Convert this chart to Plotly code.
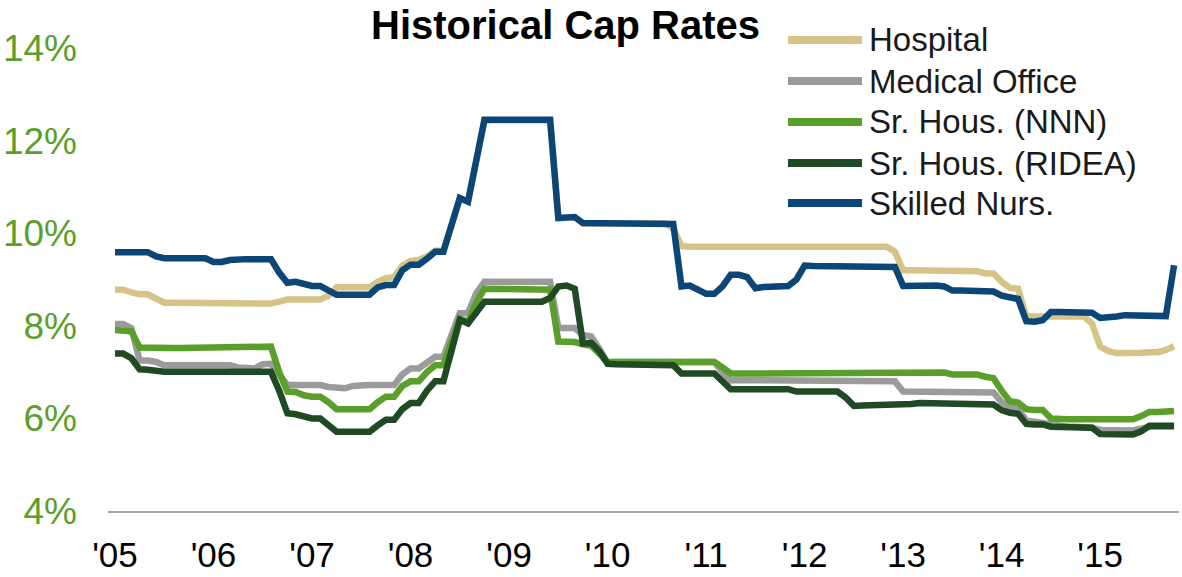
import plotly.graph_objects as go

# months since Jan 2005 (monthly observations)
months = list(range(130))
year_ticks = [0, 12, 24, 36, 48, 60, 72, 84, 96, 108, 120]
year_labels = ["'05", "'06", "'07", "'08", "'09", "'10", "'11", "'12", "'13", "'14", "'15"]
pct_ticks = [4, 6, 8, 10, 12, 14]
pct_labels = ["4%", "6%", "8%", "10%", "12%", "14%"]

hospital = [
    8.78, 8.78, 8.72, 8.68, 8.68, 8.60, 8.50, 8.50, 8.50, 8.50,
    8.50, 8.50, 8.50, 8.50, 8.48, 8.48, 8.48, 8.48, 8.48, 8.48,
    8.52, 8.57, 8.57, 8.57, 8.57, 8.57, 8.65, 8.83, 8.83, 8.83,
    8.83, 8.83, 8.95, 9.03, 9.05, 9.30, 9.40, 9.42, 9.50, 9.62,
    9.62, 10.20, 10.75, 10.68, 11.60, 12.44, 12.44, 12.44, 12.44, 12.44,
    12.44, 12.44, 12.44, 12.44, 10.32, 10.34, 10.34, 10.21, 10.21, 10.21,
    10.21, 10.21, 10.21, 10.21, 10.21, 10.21, 10.21, 10.21, 10.10, 9.72,
    9.71, 9.71, 9.71, 9.71, 9.71, 9.71, 9.71, 9.71, 9.71, 9.71,
    9.71, 9.71, 9.71, 9.71, 9.71, 9.71, 9.71, 9.71, 9.71, 9.71,
    9.71, 9.71, 9.71, 9.71, 9.71, 9.60, 9.20, 9.20, 9.20, 9.20,
    9.20, 9.20, 9.20, 9.20, 9.20, 9.18, 9.13, 9.13, 8.95, 8.82,
    8.80, 8.20, 8.20, 8.20, 8.20, 8.20, 8.20, 8.20, 8.20, 8.05,
    7.55, 7.45, 7.41, 7.41, 7.40, 7.42, 7.43, 7.43, 7.48, 7.56,
]

medical_office = [
    8.04, 8.04, 7.95, 7.25, 7.25, 7.22, 7.15, 7.15, 7.15, 7.15,
    7.15, 7.15, 7.15, 7.15, 7.15, 7.10, 7.08, 7.08, 7.17, 7.18,
    6.95, 6.72, 6.72, 6.72, 6.72, 6.72, 6.68, 6.65, 6.65, 6.70,
    6.72, 6.72, 6.72, 6.72, 6.72, 6.95, 7.08, 7.08, 7.20, 7.33,
    7.33, 7.80, 8.27, 8.27, 8.70, 8.95, 8.95, 8.95, 8.95, 8.95,
    8.95, 8.95, 8.95, 8.95, 7.95, 7.95, 7.95, 7.80, 7.77, 7.50,
    7.20, 7.22, 7.22, 7.22, 7.22, 7.22, 7.22, 7.22, 7.22, 7.22,
    7.22, 7.22, 7.22, 7.22, 7.00, 6.82, 6.83, 6.83, 6.83, 6.83,
    6.83, 6.83, 6.83, 6.83, 6.83, 6.83, 6.83, 6.83, 6.83, 6.83,
    6.83, 6.83, 6.83, 6.83, 6.83, 6.80, 6.58, 6.58, 6.58, 6.58,
    6.58, 6.58, 6.58, 6.58, 6.58, 6.58, 6.58, 6.56, 6.35, 6.25,
    6.20, 5.95, 5.93, 5.90, 5.85, 5.82, 5.82, 5.82, 5.82, 5.80,
    5.75, 5.74, 5.74, 5.74, 5.74, 5.78, 5.82, 5.82, 5.82, 5.82,
]

sr_nnn = [
    7.91, 7.91, 7.88, 7.53, 7.52, 7.52, 7.52, 7.52, 7.52, 7.52,
    7.52, 7.52, 7.52, 7.52, 7.52, 7.52, 7.52, 7.52, 7.52, 7.55,
    7.00, 6.58, 6.57, 6.50, 6.47, 6.47, 6.35, 6.20, 6.20, 6.20,
    6.20, 6.20, 6.35, 6.47, 6.47, 6.70, 6.80, 6.80, 7.00, 7.15,
    7.15, 7.70, 8.15, 8.08, 8.50, 8.80, 8.80, 8.80, 8.80, 8.80,
    8.80, 8.80, 8.80, 8.78, 7.66, 7.66, 7.65, 7.60, 7.57, 7.40,
    7.22, 7.22, 7.22, 7.22, 7.22, 7.22, 7.22, 7.22, 7.22, 7.22,
    7.22, 7.22, 7.22, 7.22, 7.10, 6.97, 6.97, 6.97, 6.97, 6.97,
    6.97, 6.97, 6.97, 6.97, 6.97, 6.97, 6.97, 6.97, 6.97, 6.97,
    6.97, 6.97, 6.97, 6.97, 6.97, 6.97, 6.99, 6.99, 6.99, 6.99,
    6.99, 6.99, 6.95, 6.95, 6.95, 6.95, 6.90, 6.87, 6.60, 6.37,
    6.34, 6.20, 6.18, 6.18, 6.00, 5.98, 5.98, 5.98, 5.98, 5.98,
    5.98, 5.98, 5.98, 5.98, 5.98, 6.05, 6.14, 6.14, 6.15, 6.16,
]

sr_ridea = [
    7.40, 7.40, 7.30, 7.06, 7.05, 7.02, 7.01, 7.01, 7.01, 7.01,
    7.01, 7.01, 7.01, 7.01, 7.01, 7.01, 7.01, 7.01, 7.01, 7.01,
    6.60, 6.11, 6.09, 6.05, 6.00, 6.00, 5.85, 5.71, 5.71, 5.71,
    5.71, 5.71, 5.85, 5.97, 5.97, 6.20, 6.33, 6.33, 6.60, 6.80,
    6.80, 7.50, 8.13, 8.05, 8.30, 8.52, 8.52, 8.52, 8.52, 8.52,
    8.52, 8.52, 8.52, 8.60, 8.85, 8.87, 8.80, 7.62, 7.63, 7.45,
    7.18, 7.17, 7.17, 7.17, 7.17, 7.17, 7.17, 7.17, 7.15, 6.97,
    6.97, 6.97, 6.97, 6.97, 6.80, 6.63, 6.63, 6.63, 6.63, 6.63,
    6.63, 6.63, 6.63, 6.58, 6.58, 6.58, 6.58, 6.58, 6.58, 6.45,
    6.27, 6.28, 6.28, 6.28, 6.28, 6.28, 6.30, 6.31, 6.33, 6.33,
    6.33, 6.33, 6.33, 6.33, 6.33, 6.33, 6.33, 6.30, 6.18, 6.12,
    6.10, 5.88, 5.87, 5.87, 5.82, 5.82, 5.82, 5.82, 5.82, 5.80,
    5.66, 5.65, 5.65, 5.65, 5.65, 5.72, 5.84, 5.84, 5.84, 5.84,
]

skilled_nursing = [
    9.59, 9.59, 9.59, 9.59, 9.59, 9.50, 9.46, 9.46, 9.46, 9.46,
    9.46, 9.46, 9.38, 9.38, 9.42, 9.44, 9.44, 9.44, 9.44, 9.44,
    9.15, 8.93, 8.95, 8.90, 8.86, 8.86, 8.75, 8.67, 8.67, 8.67,
    8.67, 8.67, 8.83, 8.88, 8.88, 9.20, 9.32, 9.32, 9.45, 9.60,
    9.60, 10.20, 10.76, 10.68, 11.60, 12.45, 12.45, 12.45, 12.45, 12.45,
    12.45, 12.45, 12.45, 12.45, 10.33, 10.35, 10.35, 10.22, 10.22, 10.22,
    10.22, 10.22, 10.22, 10.22, 10.22, 10.22, 10.22, 10.22, 10.20, 8.85,
    8.87, 8.78, 8.69, 8.69, 8.85, 9.10, 9.10, 9.05, 8.81, 8.84,
    8.85, 8.86, 8.86, 9.00, 9.30, 9.29, 9.29, 9.29, 9.29, 9.29,
    9.29, 9.29, 9.29, 9.29, 9.29, 9.27, 8.86, 8.87, 8.87, 8.87,
    8.87, 8.85, 8.76, 8.76, 8.76, 8.76, 8.76, 8.74, 8.65, 8.60,
    8.58, 8.10, 8.09, 8.12, 8.30, 8.30, 8.30, 8.30, 8.30, 8.28,
    8.17, 8.17, 8.20, 8.23, 8.23, 8.23, 8.23, 8.23, 8.21, 9.31,
]

series_names = ["Hospital", "Medical Office", "Sr. Hous. (NNN)", "Sr. Hous. (RIDEA)", "Skilled Nurs."]
series_values = [hospital, medical_office, sr_nnn, sr_ridea, skilled_nursing]
series_colors = ["#D5C387", "#9B9B9B", "#5A9F2A", "#1F4A24", "#0B4677"]

FONT = "Liberation Sans, Arial, sans-serif"

fig = go.Figure()
for name, vals, col in zip(series_names, series_values, series_colors):
    fig.add_trace(go.Scatter(
        x=months, y=vals, name=name, mode="lines",
        line=dict(color=col, width=6.5),
        showlegend=False,
    ))

# Manual legend (long line samples like the original)
legend_y = [1.0173, 0.9287, 0.8402, 0.7516, 0.6652]
for name, col, ly in zip(series_names, series_colors, legend_y):
    fig.add_shape(type="line", xref="paper", yref="paper",
                  x0=0.6349, x1=0.7040, y0=ly, y1=ly,
                  line=dict(color=col, width=8))
    fig.add_annotation(text=name, xref="paper", yref="paper",
                       x=0.7087, y=ly, xanchor="left", yanchor="middle",
                       showarrow=False,
                       font=dict(family=FONT, size=33, color="#1A1A1A"))

fig.add_annotation(text="<b>Historical Cap Rates</b>", xref="paper", yref="paper",
                   x=0.4276, y=1.0497, xanchor="center", yanchor="middle",
                   showarrow=False, font=dict(family=FONT, size=40, color="#000000"))

fig.update_layout(
    width=1182, height=577,
    margin=dict(l=108, r=3, t=48, b=66),
    paper_bgcolor="white", plot_bgcolor="white",
    font=dict(family=FONT),
    xaxis=dict(range=[-0.85, 129.6], tickvals=year_ticks, ticktext=year_labels,
               showgrid=False, zeroline=False, showline=True, automargin=False,
               linecolor="#A6A6A6", linewidth=1.5, ticks="",
               tickfont=dict(family=FONT, size=35, color="#000000"),
               ticklabelstandoff=12),
    yaxis=dict(range=[4, 14], tickvals=pct_ticks, ticktext=pct_labels,
               showgrid=False, zeroline=False, showline=False, ticks="",
               automargin=False,
               tickfont=dict(family=FONT, size=37, color="#5A9F2A"),
               ticklabelstandoff=30),
)

fig.write_html("out.html",
               config={"displayModeBar": False},
               post_script="document.body.style.margin='0px';document.body.style.overflow='hidden';")
